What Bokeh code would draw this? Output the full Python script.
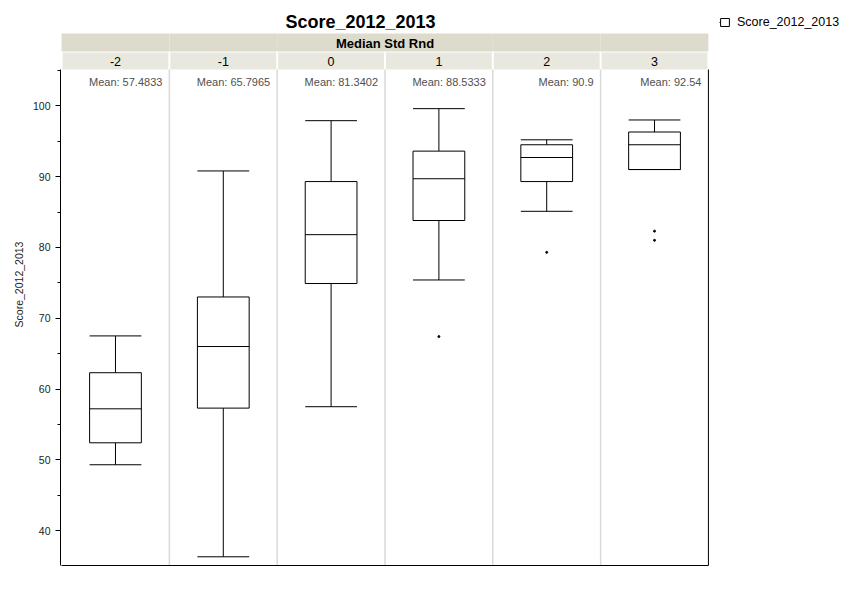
from bokeh.plotting import figure
from bokeh.models import (ColumnDataSource, FactorRange, SingleIntervalTicker, Label,
                          Legend, LegendItem)
from bokeh.transform import dodge
from bokeh.embed import file_html
from bokeh.resources import INLINE

# ---------------- data ----------------
categories = ["-2", "-1", "0", "1", "2", "3"]
means = [57.4833, 65.7965, 81.3402, 88.5333, 90.9, 92.54]
whisker_low = [49.3, 36.3, 57.5, 75.4, 85.1, 91.0]
q1 = [52.4, 57.3, 74.9, 83.8, 89.3, 91.0]
median = [57.2, 66.0, 81.8, 89.7, 92.7, 94.5]
q3 = [62.3, 73.0, 89.3, 93.6, 94.5, 96.3]
whisker_high = [67.5, 90.8, 97.9, 99.6, 95.2, 98.0]
outlier_cat = ["1", "2", "3", "3"]
outlier_val = [67.4, 79.3, 82.3, 81.0]
mean_labels = ["Mean: %s" % ("%g" % m) for m in means]
group_title = "Median Std Rnd"
series_name = "Score_2012_2013"

# ---------------- layout constants ----------------
Y0, Y1 = 35.07, 105.13          # value range of the plot area (axis bounds)
LEFT = 60
FRAME_W = 649
TOP_PX = 69                     # title + header height above the plot area
DATA_PX = 496
BOTTOM_EXTRA = 3
FRAME_H = TOP_PX + DATA_PX + BOTTOM_EXTRA
PX = DATA_PX / (Y1 - Y0)        # pixels per value unit
BOX_W = 0.48
FONT = "Liberation Sans"

xr = FactorRange(*categories, range_padding=0.01, range_padding_units="absolute")
p = figure(x_range=xr, y_range=(Y0 - BOTTOM_EXTRA / PX, Y1 + TOP_PX / PX),
           frame_width=FRAME_W, frame_height=FRAME_H, x_axis_location=None,
           min_border_left=LEFT, min_border_right=859 - LEFT - FRAME_W,
           min_border_top=0, min_border_bottom=595 - FRAME_H,
           output_backend="svg", toolbar_location=None, tools="")
p.outline_line_color = None
p.xgrid.grid_line_color = None
p.ygrid.grid_line_color = None
p.background_fill_color = "white"
p.border_fill_color = "white"

src = ColumnDataSource(dict(cat=categories, lo=whisker_low, q1=q1, med=median, q3=q3,
                            hi=whisker_high, mean=mean_labels))

# header band and cells
p.vbar(x="cat", width=1.0, bottom=Y1 + 18 / PX, top=Y1 + 36 / PX, source=src,
       fill_color="#dcdbcc", line_color=None)
p.vbar(x="cat", width=1 - 2 / 107.8, bottom=Y1, top=Y1 + 17 / PX, source=src,
       fill_color="#e8e8df", line_color=None)

# panel dividers
div_src = ColumnDataSource(dict(cat=categories[:-1]))
p.segment(x0=dodge("cat", 0.5, range=xr), x1=dodge("cat", 0.5, range=xr),
          y0=Y0, y1=Y1, source=div_src, line_color="#d9d9d9", line_width=1.5)

# plot-area border: bottom and right
edge_src = ColumnDataSource(dict(first=[categories[0]], last=[categories[-1]]))
p.segment(x0=dodge("first", -0.5, range=xr), x1=dodge("last", 0.5, range=xr),
          y0=Y0, y1=Y0, source=edge_src, line_color="black", line_width=1)
p.segment(x0=dodge("last", 0.5, range=xr), x1=dodge("last", 0.5, range=xr),
          y0=Y0, y1=Y1, source=edge_src, line_color="black", line_width=1)

# box plots
stem_hi = p.segment(x0="cat", x1="cat", y0="q3", y1="hi", source=src, line_color="black", line_width=1)
p.segment(x0="cat", x1="cat", y0="lo", y1="q1", source=src, line_color="black", line_width=1)
box = p.vbar(x="cat", width=BOX_W, bottom="q1", top="q3", source=src,
             fill_color="white", line_color="black", line_width=1)
for col in ["med", "lo", "hi"]:
    p.segment(x0=dodge("cat", -BOX_W / 2, range=xr), x1=dodge("cat", BOX_W / 2, range=xr),
              y0=col, y1=col, source=src, line_color="black", line_width=1)

p.scatter(x=outlier_cat, y=outlier_val, size=2, marker="circle", color="black")

# texts
p.text(x=dodge("cat", 0.5, range=xr), y=Y1, text="mean", source=src,
       x_offset=-7, y_offset=12, text_align="right", text_baseline="middle",
       text_font_size="11px", text_color="#505050", text_font={"value": FONT})
p.text(x="cat", y=Y1, text="cat", source=src, y_offset=-7.7,
       text_align="center", text_baseline="middle", text_font_size="12.5px",
       text_color="black", text_font={"value": FONT})
hdr_src = ColumnDataSource(dict(cat=["0"], t=[group_title]))
p.text(x=dodge("cat", 0.5, range=xr), y=Y1, text="t", source=hdr_src, y_offset=-26.3,
       text_align="center", text_baseline="middle", text_font_size="13px",
       text_font_style="bold", text_color="black", text_font={"value": FONT})

title = Label(x=300, x_units="screen", y=Y1 + (TOP_PX - 21.7) / PX, y_units="data",
              text=series_name, text_font=FONT, text_font_size="18px",
              text_font_style="bold", text_align="center", text_baseline="middle",
              text_color="black")
p.add_layout(title)

# y axis
yax = p.yaxis[0]
yax.bounds = (Y0, Y1)
yax.ticker = SingleIntervalTicker(interval=10, num_minor_ticks=2)
yax.axis_label = series_name
yax.axis_label_text_font = FONT
yax.axis_label_text_font_size = "10.5px"
yax.axis_label_text_font_style = "normal"
yax.axis_label_text_color = "#222222"
yax.axis_label_standoff = 5
yax.major_label_text_font = FONT
yax.major_label_text_font_size = "10.5px"
yax.major_label_text_color = "#222222"
yax.major_tick_in = 0
yax.major_tick_out = 5
yax.minor_tick_in = 0
yax.minor_tick_out = 3
yax.major_label_standoff = 5
yax.axis_line_color = "black"
yax.major_tick_line_color = "black"
yax.minor_tick_line_color = "black"

# legend (right side panel)
legend = Legend(items=[LegendItem(label=series_name, renderers=[stem_hi, box])],
                location=(10, FRAME_H - 29), padding=0, margin=0,
                glyph_width=11, glyph_height=10, label_height=10, label_standoff=7,
                label_text_font=FONT, label_text_font_size="12.5px", label_text_color="black",
                border_line_color=None, background_fill_alpha=0)
p.add_layout(legend, "right")

open("out.html", "w").write(file_html(p, INLINE))
